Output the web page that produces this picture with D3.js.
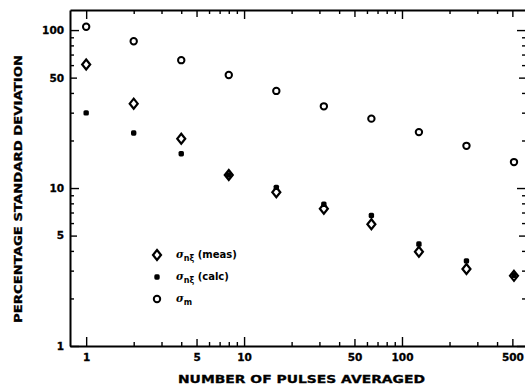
<!DOCTYPE html>
<html>
<head>
<meta charset="utf-8">
<script src="https://cdn.jsdelivr.net/npm/d3@7/dist/d3.min.js"></script>
<style>
	body { margin: 0; background: #fff; }
	svg { display: block; }
	.tick text { font-family: "DejaVu Sans", sans-serif; font-weight: bold; font-size: 10.5px; fill: #000; stroke: #000; stroke-width: 0.3px; }
</style>
</head>
<body>
<div id="chart"></div>
<script>
// Data
//---------------------------------------------------------------------------
var pulses = [1, 2, 4, 8, 16, 32, 64, 128, 256, 512];
var sigmaMeas = [60.5, 34.2, 20.5, 12.1, 9.4, 7.4, 5.9, 3.95, 3.07, 2.78];
var sigmaCalc = [29.9, 22.3, 16.5, 12.1, 10.1, 7.9, 6.7, 4.42, 3.46, 2.8];
var sigmaM = [105, 85, 64.5, 52, 41.2, 32.9, 27.5, 22.6, 18.5, 14.6];

var xTicks = [1, 2, 3, 4, 5, 6, 7, 8, 9, 10, 20, 30, 40, 50, 60, 70, 80, 90, 100, 200, 300, 400, 500];
var xLabels = [1, 5, 10, 50, 100, 500];
var yTicks = [1, 2, 3, 4, 5, 6, 7, 8, 9, 10, 20, 30, 40, 50, 60, 70, 80, 90, 100];
var yLabels = [1, 5, 10, 50, 100];

// Canvas and scales
//---------------------------------------------------------------------------
var width = 525, height = 389;
// plot frame (window.top is reserved, so use own names)
var pLeft = 70, pRight = 526, pTop = 10, pBottom = 346;

var svg = d3.select("#chart").append("svg")
	.attr("width", width)
	.attr("height", height);

var x = d3.scaleLog().domain([0.79, 610]).range([pLeft, pRight]);
var y = d3.scaleLog().domain([1, 134]).range([pBottom, pTop]);

// tick length: decades long, fives medium, rest short
function tickLen(d) {
	var l = Math.log10(d);
	if (Math.abs(l - Math.round(l)) < 1e-6) return 9;
	if (String(d).charAt(0) == "5") return 7;
	return 4;
}
function fmt(list) {
	return function(d) { return list.indexOf(d) >= 0 ? d : ""; };
}

// Axes (ticks point into the plot)
//---------------------------------------------------------------------------
var gBottom = svg.append("g")
	.attr("transform", "translate(0," + pBottom + ")")
	.call(d3.axisBottom(x).tickValues(xTicks).tickFormat(fmt(xLabels)).tickSize(0).tickPadding(8));
gBottom.selectAll(".tick line").attr("y2", function(d) { return -tickLen(d); });

var gTop = svg.append("g")
	.attr("transform", "translate(0," + pTop + ")")
	.call(d3.axisTop(x).tickValues(xTicks).tickFormat("").tickSize(0));
gTop.selectAll(".tick line").attr("y2", function(d) { return tickLen(d); });

var gLeft = svg.append("g")
	.attr("transform", "translate(" + pLeft + ",0)")
	.call(d3.axisLeft(y).tickValues(yTicks).tickFormat(fmt(yLabels)).tickSize(0).tickPadding(6));
gLeft.selectAll(".tick line").attr("x2", function(d) { return tickLen(d); });

var gRight = svg.append("g")
	.attr("transform", "translate(" + pRight + ",0)")
	.call(d3.axisRight(y).tickValues(yTicks).tickFormat("").tickSize(0));
gRight.selectAll(".tick line").attr("x2", function(d) { return -tickLen(d); });

svg.selectAll(".domain").attr("stroke", "#000").attr("stroke-width", 2);
svg.selectAll(".tick line").attr("stroke", "#000").attr("stroke-width", 1.4);

// Axis titles
//---------------------------------------------------------------------------
svg.append("text")
	.attr("x", 178).attr("y", 383)
	.attr("textLength", 247).attr("lengthAdjust", "spacingAndGlyphs")
	.attr("font-family", "DejaVu Sans, sans-serif")
	.attr("font-weight", "bold")
	.attr("font-size", "10.5px")
	.attr("stroke", "#000").attr("stroke-width", 0.3)
	.text("NUMBER OF PULSES AVERAGED");

svg.append("text")
	.attr("transform", "translate(22,323) rotate(-90)")
	.attr("textLength", 268).attr("lengthAdjust", "spacingAndGlyphs")
	.attr("font-family", "DejaVu Sans, sans-serif")
	.attr("font-weight", "bold")
	.attr("font-size", "10.5px")
	.attr("stroke", "#000").attr("stroke-width", 0.3)
	.text("PERCENTAGE STANDARD DEVIATION");

// Markers
//---------------------------------------------------------------------------
var diamond = "M0,-5L4,0L0,5L-4,0Z";

function drawCircle(g, cx, cy) {
	g.append("circle").attr("cx", cx).attr("cy", cy).attr("r", 3.2)
		.attr("fill", "#fff").attr("stroke", "#000").attr("stroke-width", 2);
}
function drawDiamond(g, cx, cy) {
	g.append("path").attr("d", diamond)
		.attr("transform", "translate(" + cx + "," + cy + ")")
		.attr("fill", "#fff").attr("stroke", "#000").attr("stroke-width", 2.2);
}
function drawDot(g, cx, cy) {
	g.append("rect").attr("x", cx - 2.7).attr("y", cy - 2.7)
		.attr("width", 5.4).attr("height", 5.4).attr("rx", 1.6)
		.attr("fill", "#000");
}

var marks = svg.append("g");
pulses.forEach(function(p, i) { drawCircle(marks, x(p), y(sigmaM[i])); });
pulses.forEach(function(p, i) { drawDiamond(marks, x(p), y(sigmaMeas[i])); });
pulses.forEach(function(p, i) { drawDot(marks, x(p), y(sigmaCalc[i])); });

// Legend
//---------------------------------------------------------------------------
var legend = svg.append("g");
var legendRows = [
	{ draw: drawDiamond, sub: "n\u03be", tail: " (meas)" },
	{ draw: drawDot, sub: "n\u03be", tail: " (calc)" },
	{ draw: drawCircle, sub: "m", tail: "" }
];
legendRows.forEach(function(r, i) {
	var cy = 255 + i * 22;
	r.draw(legend, 157, cy);
	var t = legend.append("text")
		.attr("x", 176).attr("y", cy + 3)
		.attr("font-family", "DejaVu Sans, sans-serif")
		.attr("font-weight", "bold")
		.attr("font-size", "10.5px");
	t.append("tspan").attr("font-style", "italic").attr("font-family", "DejaVu Serif, serif").text("\u03c3");
	t.append("tspan").attr("font-size", "8px").attr("dy", 3).text(r.sub);
	t.append("tspan").attr("font-size", "10px").attr("dy", -3).text(r.tail);
});
</script>
</body>
</html>
